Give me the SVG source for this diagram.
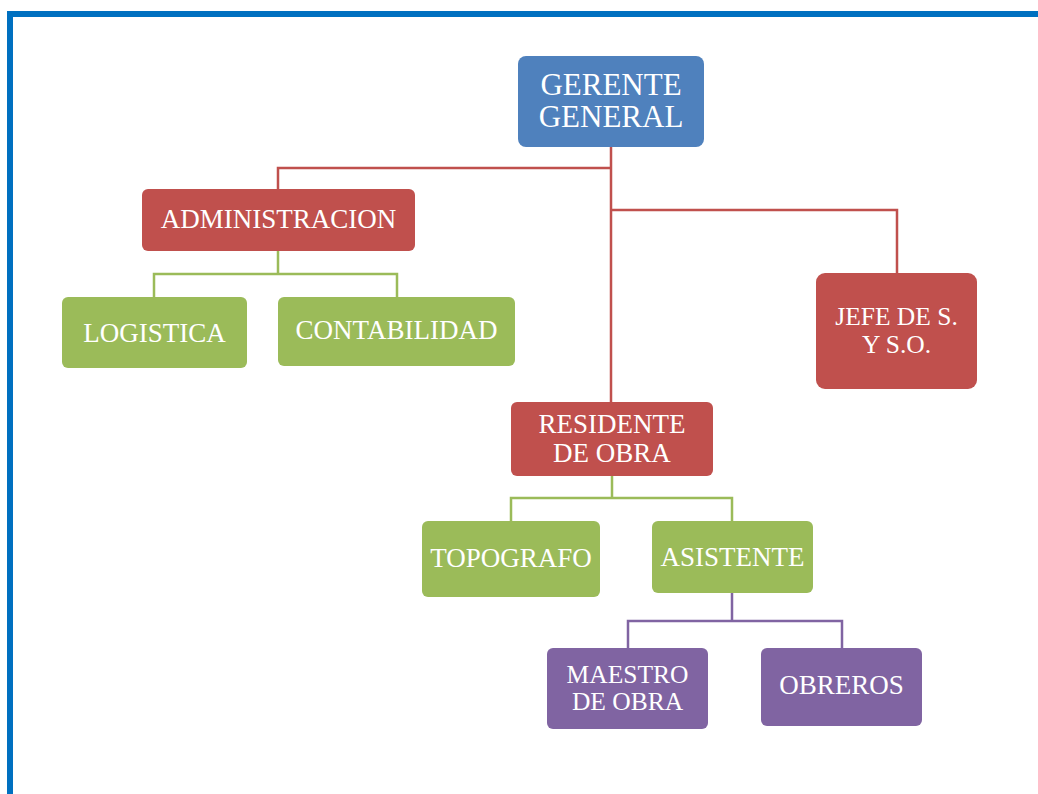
<svg xmlns="http://www.w3.org/2000/svg" width="1038" height="794" viewBox="0 0 1038 794">
<style>
.n text{font-family:"Liberation Serif","Times New Roman",serif;fill:#fff;text-anchor:middle;font-size:27px}
.blue{fill:#4F81BD}.red{fill:#C0504D}.green{fill:#9BBB59}.purple{fill:#8064A2}
.c path{fill:none;stroke-width:2.5}
</style>
<rect width="1038" height="794" fill="#fff"/>
<path d="M10 800 V14 H1045" fill="none" stroke="#0070C0" stroke-width="6"/>
<g class="c" id="connectors">
<path d="M611 147 V402 M611 168 H278 V190 M611 210 H897 V273" stroke="#C0504D"/>
<path d="M278 251 V274 M154 297 V274 H397 V297" stroke="#9BBB59"/>
<path d="M612 476 V498 M511 521 V498 H732 V521" stroke="#9BBB59"/>
<path d="M732 593 V621 M628 648 V621 H842 V648" stroke="#8064A2"/>
</g>
<g class="n" id="gerente"><rect class="blue" x="518" y="56" width="186" height="91" rx="8"/><text x="611" y="95" style="font-size:31px">GERENTE</text><text x="611" y="127" style="font-size:31px">GENERAL</text></g>
<g class="n" id="administracion"><rect class="red" x="142" y="189" width="273" height="62" rx="6"/><text x="278.5" y="228">ADMINISTRACION</text></g>
<g class="n" id="logistica"><rect class="green" x="62" y="297" width="185" height="71" rx="6"/><text x="154.5" y="342">LOGISTICA</text></g>
<g class="n" id="contabilidad"><rect class="green" x="278" y="297" width="237" height="69" rx="6"/><text x="396.5" y="339">CONTABILIDAD</text></g>
<g class="n" id="jefe"><rect class="red" x="816" y="273" width="161" height="116" rx="9"/><text x="896.5" y="325" style="font-size:25.5px">JEFE DE S.</text><text x="896.5" y="353" style="font-size:25.5px">Y S.O.</text></g>
<g class="n" id="residente"><rect class="red" x="511" y="402" width="202" height="74" rx="6"/><text x="612" y="433">RESIDENTE</text><text x="612" y="462">DE OBRA</text></g>
<g class="n" id="topografo"><rect class="green" x="422" y="521" width="178" height="76" rx="6"/><text x="511" y="567">TOPOGRAFO</text></g>
<g class="n" id="asistente"><rect class="green" x="652" y="521" width="161" height="72" rx="6"/><text x="732.5" y="566">ASISTENTE</text></g>
<g class="n" id="maestro"><rect class="purple" x="547" y="648" width="161" height="81" rx="6"/><text x="627.5" y="683" style="font-size:25.5px">MAESTRO</text><text x="627.5" y="710" style="font-size:25.5px">DE OBRA</text></g>
<g class="n" id="obreros"><rect class="purple" x="761" y="648" width="161" height="78" rx="6"/><text x="841.5" y="694">OBREROS</text></g>
</svg>
